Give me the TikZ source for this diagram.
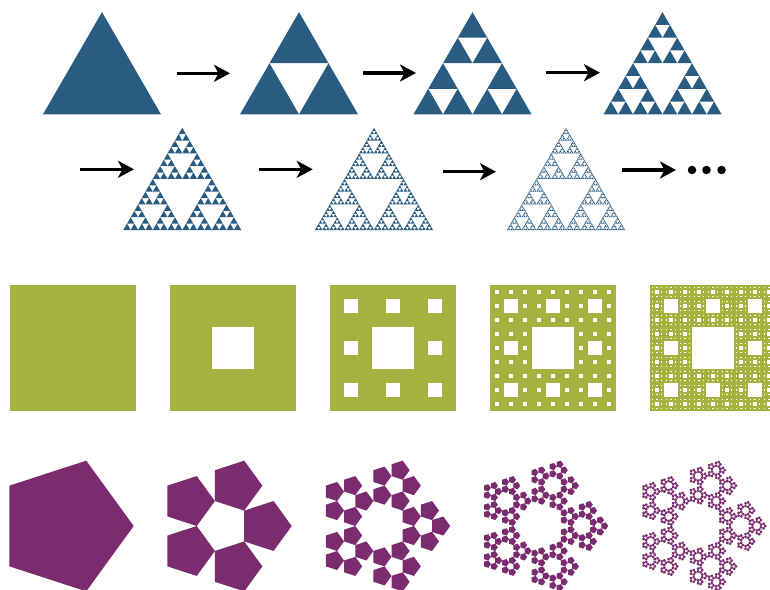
\documentclass[tikz,border=0pt]{standalone}
\usetikzlibrary{arrows.meta}
\definecolor{triblue}{HTML}{2A5B80}
\definecolor{cargreen}{HTML}{A6B240}
\definecolor{penpurple}{HTML}{7A2C6F}

% Sierpinski triangle: level, base-left x, base y, side
\newcommand\sierp[4]{%
\ifnum#1=0\relax
 \fill[tri] (#2,#3) -- ++(#4,0) -- ++({-#4/2},{-0.8660254*#4}) -- cycle;
\else
 \edef\sierptmp{%
  \noexpand\sierp{\the\numexpr#1-1\relax}{#2}{#3}{\fpeval{#4/2}}%
  \noexpand\sierp{\the\numexpr#1-1\relax}{\fpeval{#2+#4/2}}{#3}{\fpeval{#4/2}}%
  \noexpand\sierp{\the\numexpr#1-1\relax}{\fpeval{#2+#4/4}}{\fpeval{#3-0.8660254*#4/2}}{\fpeval{#4/2}}}%
 \sierptmp
\fi}

% Sierpinski carpet holes: level, top-left x, top-left y, side
\newcommand\holes[4]{%
 \fill[hole] ({#2+#4/3},{#3+#4/3}) rectangle ++({#4/3},{#4/3});
 \ifnum#1>1\relax
  \edef\holestmp{%
   \noexpand\holes{\the\numexpr#1-1\relax}{#2}{#3}{\fpeval{#4/3}}%
   \noexpand\holes{\the\numexpr#1-1\relax}{\fpeval{#2+#4/3}}{#3}{\fpeval{#4/3}}%
   \noexpand\holes{\the\numexpr#1-1\relax}{\fpeval{#2+2*#4/3}}{#3}{\fpeval{#4/3}}%
   \noexpand\holes{\the\numexpr#1-1\relax}{#2}{\fpeval{#3+#4/3}}{\fpeval{#4/3}}%
   \noexpand\holes{\the\numexpr#1-1\relax}{\fpeval{#2+2*#4/3}}{\fpeval{#3+#4/3}}{\fpeval{#4/3}}%
   \noexpand\holes{\the\numexpr#1-1\relax}{#2}{\fpeval{#3+2*#4/3}}{\fpeval{#4/3}}%
   \noexpand\holes{\the\numexpr#1-1\relax}{\fpeval{#2+#4/3}}{\fpeval{#3+2*#4/3}}{\fpeval{#4/3}}%
   \noexpand\holes{\the\numexpr#1-1\relax}{\fpeval{#2+2*#4/3}}{\fpeval{#3+2*#4/3}}{\fpeval{#4/3}}}%
  \holestmp
 \fi}
\newcommand\carpet[4]{%
 \fill[carp] (#2,#3) rectangle ++(#4,#4);
 \ifnum#1>0\relax \holes{#1}{#2}{#3}{#4}\fi}

% Sierpinski pentagon: level, centre x, centre y, circumradius
\newcommand\penta[4]{%
\ifnum#1=0\relax
 \fill[pent,shift={(#2,#3)}] (0:#4) -- (72:#4) -- (144:#4) -- (216:#4) -- (288:#4) -- cycle;
\else
 \edef\pentatmp{%
  \noexpand\penta{\the\numexpr#1-1\relax}{\fpeval{#2+0.618034*#4}}{#3}{\fpeval{0.381966*#4}}%
  \noexpand\penta{\the\numexpr#1-1\relax}{\fpeval{#2+0.618034*#4*0.309017}}{\fpeval{#3-0.618034*#4*0.9510565}}{\fpeval{0.381966*#4}}%
  \noexpand\penta{\the\numexpr#1-1\relax}{\fpeval{#2-0.618034*#4*0.809017}}{\fpeval{#3-0.618034*#4*0.5877853}}{\fpeval{0.381966*#4}}%
  \noexpand\penta{\the\numexpr#1-1\relax}{\fpeval{#2-0.618034*#4*0.809017}}{\fpeval{#3+0.618034*#4*0.5877853}}{\fpeval{0.381966*#4}}%
  \noexpand\penta{\the\numexpr#1-1\relax}{\fpeval{#2+0.618034*#4*0.309017}}{\fpeval{#3+0.618034*#4*0.9510565}}{\fpeval{0.381966*#4}}}%
 \pentatmp
\fi}

\tikzset{
 tri/.style={fill=triblue},
 carp/.style={fill=cargreen},
 hole/.style={fill=white},
 pent/.style={fill=penpurple},
 arrowline/.style={line width=3.2pt,-{Stealth[length=16pt,width=17pt,inset=4.5pt]}},
 dotnode/.style={circle,fill=black,inner sep=0pt,minimum size=8.5pt}
}

\begin{document}
\begin{tikzpicture}[x=1pt,y=-1pt]
\clip (0,0) rectangle (770,589);
\fill[white] (0,0) rectangle (770,589);

% Sierpinski triangles
\sierp{0}{43}{114.3}{118}
\sierp{1}{240}{114.3}{118}
\sierp{2}{413.5}{114.3}{118}
\sierp{3}{603.5}{114.3}{118}
\sierp{4}{123.3}{230}{118}
\sierp{5}{315}{230}{118}
\sierp{6}{507}{230}{118}

% arrow end points
\coordinate (a1s) at (176.7,73.3); \coordinate (a1e) at (230,73.3);
\coordinate (a2s) at (363,73);     \coordinate (a2e) at (416,73);
\coordinate (a3s) at (546,72.7);   \coordinate (a3e) at (600,72.7);
\coordinate (a4s) at (80,169.3);   \coordinate (a4e) at (134,169.3);
\coordinate (a5s) at (259,169.3);  \coordinate (a5e) at (312.7,169.3);
\coordinate (a6s) at (443,171.7);  \coordinate (a6e) at (496,171.7);
\coordinate (a7s) at (622.3,170);  \coordinate (a7e) at (676,170);
\draw[arrowline] (a1s) -- (a1e);
\draw[arrowline] (a2s) -- (a2e);
\draw[arrowline] (a3s) -- (a3e);
\draw[arrowline] (a4s) -- (a4e);
\draw[arrowline] (a5s) -- (a5e);
\draw[arrowline] (a6s) -- (a6e);
\draw[arrowline] (a7s) -- (a7e);

\node[dotnode] (d1) at (692,170) {};
\node[dotnode] (d2) at (706.5,170) {};
\node[dotnode] (d3) at (721.5,170) {};

% Sierpinski carpets
\carpet{0}{10}{285}{126}
\carpet{1}{170}{285}{126}
\carpet{2}{329.5}{285}{126}
\carpet{3}{490}{285}{126}
\carpet{4}{650}{285}{126}

% Sierpinski pentagons
\penta{0}{65}{526}{68.7}
\penta{1}{223}{526}{68.7}
\penta{2}{381.5}{526}{68.7}
\penta{3}{539.6}{526}{68.7}
\penta{4}{698}{526}{68.7}
\end{tikzpicture}
\end{document}
